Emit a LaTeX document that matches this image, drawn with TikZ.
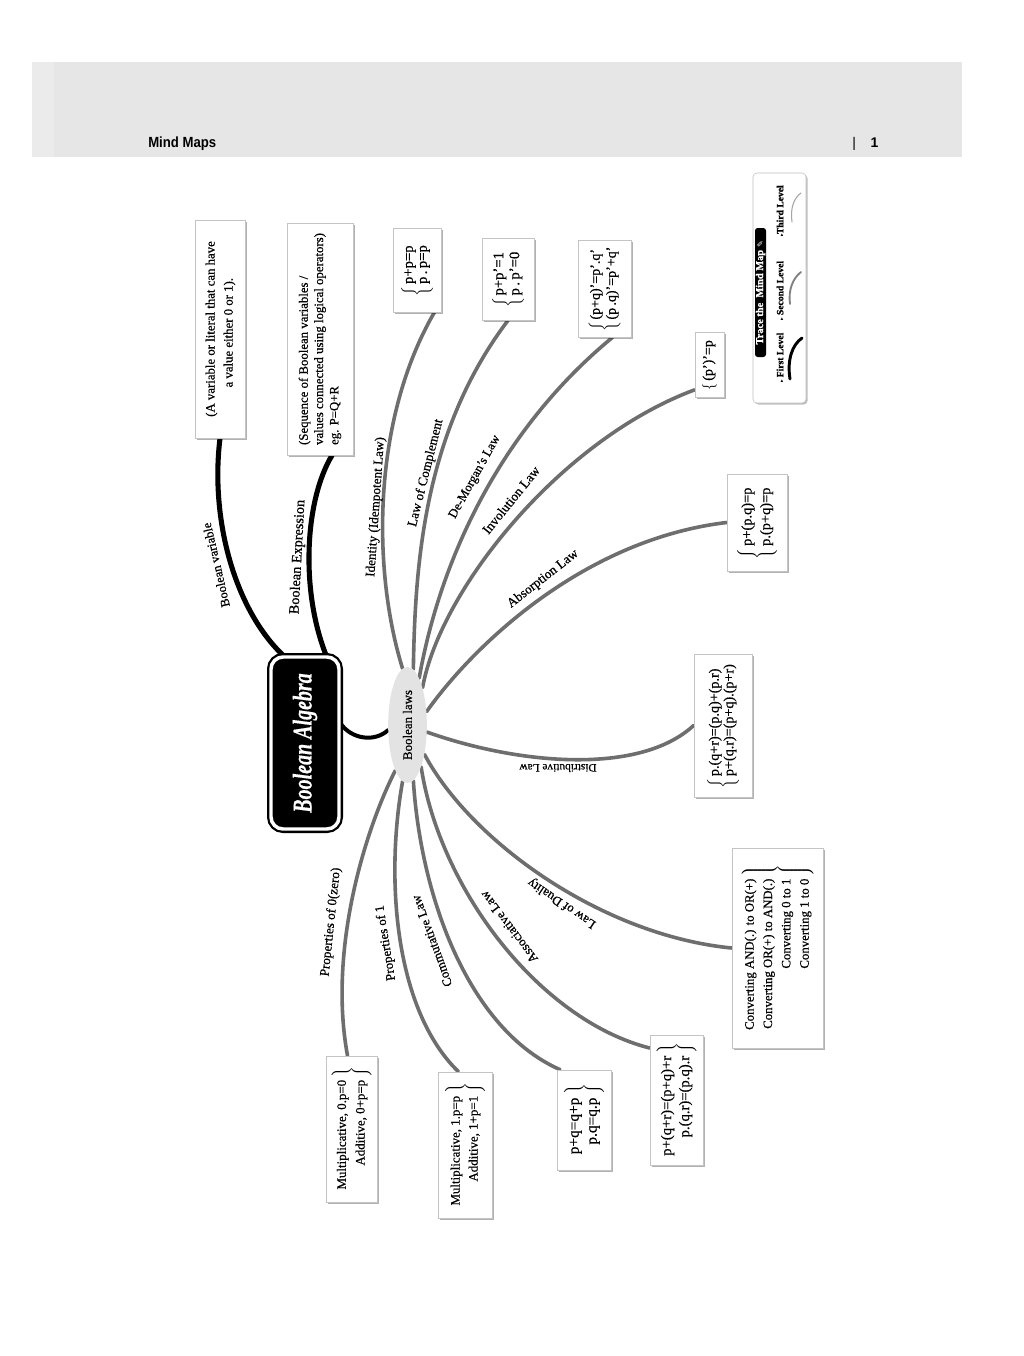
\documentclass[tikz,border=0pt]{standalone}
\usepackage{fontspec}
\usepackage{graphicx}
\setmainfont{Liberation Serif}[FakeBold=0.6]
\newfontfamily\hdrfont{Liberation Sans}
\newfontfamily\symfont{DejaVu Sans}
\usetikzlibrary{shapes.geometric,shadows}
\definecolor{hdrgray}{HTML}{E6E6E6}
\definecolor{hdrlight}{HTML}{EBEBEB}
\definecolor{linegray}{HTML}{6E6E6E}
\definecolor{boxborder}{HTML}{C4C4C4}
\definecolor{ellgray}{HTML}{E3E3E3}
\newcommand{\fs}[2]{\fontsize{#1pt}{#2pt}\selectfont}
\newcommand{\lbr}[3]{\rotatebox{90}{\fs{#1}{#2}$\left\{\,\begin{tabular}{@{}l@{}}#3\end{tabular}\right.$}}
\newcommand{\rbr}[3]{\rotatebox{90}{\fs{#1}{#2}$\left.\begin{tabular}{@{}r@{}}#3\end{tabular}\,\right\}$}}
\pgfdeclarelayer{bg}
\pgfdeclarelayer{lines}
\pgfsetlayers{bg,lines,main}
\begin{document}
\begin{tikzpicture}[x=0.75pt,y=-0.75pt,
  lvone/.style={line width=3.8pt, black, line cap=round},
  lvtwo/.style={line width=2.7pt, linegray, line cap=round},
  infobox/.style={draw=boxborder, line width=0.6pt, fill=white, inner sep=0pt,
     drop shadow={shadow xshift=1.6pt, shadow yshift=-1.6pt, opacity=0.3, fill=black}},
  brlabel/.style={inner sep=0.5pt, font=\fs{9.7}{11}},
  legitem/.style={inner sep=0pt, font=\fs{7.2}{8}\bfseries}
]
\useasboundingbox (0,0) rectangle (1024,1356);
\begin{pgfonlayer}{bg}
\fill[white] (0,0) rectangle (1024,1356);
\fill[hdrgray] (32,62) rectangle (962,157);
\fill[hdrlight] (32,62) rectangle (54,157);
\end{pgfonlayer}

% header texts
\node[anchor=base west, inner sep=0, font=\hdrfont\bfseries\fs{10.5}{12}] (hdrtitle) at (148,147) {\scalebox{0.94}[1.05]{Mind Maps}};
\node[anchor=base west, inner sep=0, font=\hdrfont\fs{10.5}{12}] (pagenum) at (852,147) {|\hspace{11pt}\textbf{1}};

% central node
\node[fill=black, draw=black, double=white, double distance=2.6pt, line width=1.7pt,
      rounded corners=9pt, minimum width=51pt, minimum height=129pt, inner sep=0pt] (ba) at (305,743)
  {\rotatebox{90}{\scalebox{1}[1.35]{\color{white}\fs{15}{17}\bfseries\itshape Boolean Algebra}}};

% Boolean laws ellipse
\node[ellipse, fill=ellgray, minimum width=29pt, minimum height=87pt, inner sep=0pt] (bl) at (407.5,725)
  {\rotatebox{90}{\fs{9.7}{11}Boolean laws}};

% boxes
\node[infobox, minimum width=37.5pt, minimum height=163.5pt] (b1) at (220,329)
  {\rotatebox{90}{\fs{9.6}{13.5}\begin{tabular}{@{}l@{}}(A variable or literal that can have\\\hspace*{22pt}a value either 0 or 1).\end{tabular}}};
\node[infobox, minimum width=49.5pt, minimum height=174pt] (b2) at (320,339)
  {\rotatebox{90}{\fs{9.6}{11.5}\begin{tabular}{@{}l@{}}(Sequence of Boolean variables /\\values connected using logical operators)\\eg. P=Q+R\end{tabular}}};
\node[infobox, minimum width=36pt, minimum height=63pt] (b3) at (417,270)
  {\lbr{11}{10.5}{p+p=p\\p\,.\,p=p}};
\node[infobox, minimum width=39pt, minimum height=61.5pt] (b4) at (508,279)
  {\lbr{11}{12}{p+p'=1\\p\,.\,p'=0}};
\node[infobox, minimum width=39.75pt, minimum height=72.75pt] (b5) at (604.5,288.5)
  {\lbr{10.5}{12}{(p+q)'=p'.q'\\(p\,.q)'=p'+q'}};
\node[infobox, minimum width=21.75pt, minimum height=48.75pt] (b6) at (709.5,364.5)
  {\lbr{10.5}{11}{(p')'=p}};
\node[infobox, minimum width=45pt, minimum height=72.75pt] (b7) at (757,522.5)
  {\lbr{10.8}{14}{p+(p.q)=p\\p.(p+q)=p}};
\node[infobox, minimum width=43.5pt, minimum height=107.25pt] (b8) at (723,725.5)
  {\lbr{10.6}{11}{p.(q+r)=(p.q)+(p.r)\\p+(q.r)=(p+q).(p+r)}};
\node[infobox, minimum width=68.25pt, minimum height=150pt] (b9) at (777.5,948)
  {\rbr{9.6}{13.75}{Converting AND(.) to OR(+)\\Converting OR(+) to AND(.)\\Converting 0 to 1\\Converting 1 to 0}};
\node[infobox, minimum width=39.75pt, minimum height=97.5pt] (b10) at (676.5,1100)
  {\rbr{11}{13.5}{p+(q+r)=(p+q)+r\\p.(q.r)=(p.q).r}};
\node[infobox, minimum width=40.5pt, minimum height=75pt] (b11) at (584,1120)
  {\rbr{11.5}{13.5}{p+q=q+p\\p.q=q.p}};
\node[infobox, minimum width=40.5pt, minimum height=109.5pt] (b12) at (465,1145)
  {\rbr{9.7}{13.5}{Multiplicative, 1.p=p\\Additive, 1+p=1}};
\node[infobox, minimum width=38.25pt, minimum height=109.5pt] (b13) at (351.5,1129)
  {\rbr{9.7}{14}{Multiplicative, 0.p=0\\Additive, 0+p=p}};

% connectors
\begin{pgfonlayer}{lines}
\draw[line width=3pt, black, line cap=round] ([yshift=15pt]ba.east) .. controls (352,740) and (375,742) .. (bl.195);
\draw[lvone] ([xshift=-16pt]ba.north) .. controls (235,610) and (210,520) .. (b1.south);
\draw[lvone] ([xshift=16pt]ba.north) .. controls (300,590) and (305,500) .. ([xshift=9pt]b2.south);
\draw[lvtwo] (bl.95) .. controls (372,570) and (372,420) .. ([xshift=13pt]b3.south);
\draw[lvtwo] (bl.84) .. controls (415,560) and (425,430) .. (b4.south);
\draw[lvtwo] (bl.76) .. controls (440,560) and (500,430) .. ([xshift=6pt]b5.south);
\draw[lvtwo] (bl.68) .. controls (440,590) and (560,440) .. ([yshift=-19pt]b6.west);
\draw[lvtwo] (bl.35) .. controls (470,650) and (580,540) .. (b7.west);
\draw[lvtwo] (bl.-20) .. controls (520,765) and (640,775) .. (b8.west);
\draw[lvtwo] (bl.-60) .. controls (470,840) and (600,935) .. (b9.west);
\draw[lvtwo] (bl.-72) .. controls (440,890) and (540,1020) .. ([yshift=39pt]b10.west);
\draw[lvtwo] (bl.-84) .. controls (421,900) and (470,1030) .. ([xshift=-18pt]b11.north);
\draw[lvtwo] (bl.-95) .. controls (385,880) and (395,1010) .. ([xshift=-5pt]b12.north);
\draw[lvtwo] (bl.-105) .. controls (365,830) and (328,950) .. ([xshift=-3pt]b13.north);
\end{pgfonlayer}

% branch labels
\node[brlabel, rotate=103, font=\fs{9.5}{11}] (lbvar) at (216,565) {Boolean variable};
\node[brlabel, rotate=87, font=\fs{10.7}{12}] (lbexp) at (298,557) {Boolean Expression};
\node[brlabel, rotate=86, font=\fs{9.9}{11}] (lid) at (376,507) {Identity (Idempotent Law)};
\node[brlabel, rotate=76, font=\fs{10}{11}] (lcomp) at (426,473) {Law of Complement};
\node[brlabel, rotate=61, font=\fs{9.5}{11}] (ldm) at (475,477) {De-Morgan’s Law};
\node[brlabel, rotate=51, font=\fs{10}{11}] (linv) at (511,500) {Involution Law};
\node[brlabel, rotate=38, font=\fs{9.9}{11}] (labs) at (543,579) {Absorption Law};
\node[brlabel, rotate=180, font=\fs{8.5}{9}] (ldist) at (558,768) {Distributive Law};
\node[brlabel, rotate=146] (ldual) at (562,903) {Law of Duality};
\node[brlabel, rotate=127] (lassoc) at (509,927) {Associative Law};
\node[brlabel, rotate=110] (lcomm) at (432,941) {Commutative Law};
\node[brlabel, rotate=99] (lp1) at (386,943) {Properties of 1};
\node[brlabel, rotate=84, font=\fs{9.9}{11}] (lp0) at (331,922) {Properties of 0(zero)};

% legend
\node[draw=gray!50, fill=white, rounded corners=3pt, minimum width=39.75pt, minimum height=172.5pt, inner sep=0pt,
      drop shadow={shadow xshift=1.2pt, shadow yshift=-1.2pt, opacity=0.25, fill=black}] (leg) at (779.5,288) {};
\node[fill=black, rounded corners=2pt, minimum width=8.25pt, minimum height=96.75pt, inner sep=0pt] (legtitle) at (760.5,292.5)
  {\rotatebox{90}{\color{white}\fs{7.8}{8}\bfseries Trace the\ \ Mind Map {\symfont\fs{6}{7}✎}}};
\node[legitem] (lv1) at (780,357.5) {\rotatebox{90}{{\symfont\fs{4}{5}▸} First Level}};
\node[legitem] (lv2) at (780,290.5) {\rotatebox{90}{{\symfont\fs{4}{5}▸} Second Level}};
\node[legitem] (lv3) at (780,211) {\rotatebox{90}{{\symfont\fs{4}{5}▸}Third Level}};
\draw[line width=2.2pt, black, line cap=round] (790,379) .. controls (787,360) and (792,345) .. (802,338);
\draw[line width=1.4pt, gray, line cap=round] (790,304) .. controls (788,290) and (793,278) .. (801,272);
\draw[line width=0.8pt, gray!70, line cap=round] (792,222) .. controls (790,208) and (794,198) .. (801,193);
\end{tikzpicture}
\end{document}
